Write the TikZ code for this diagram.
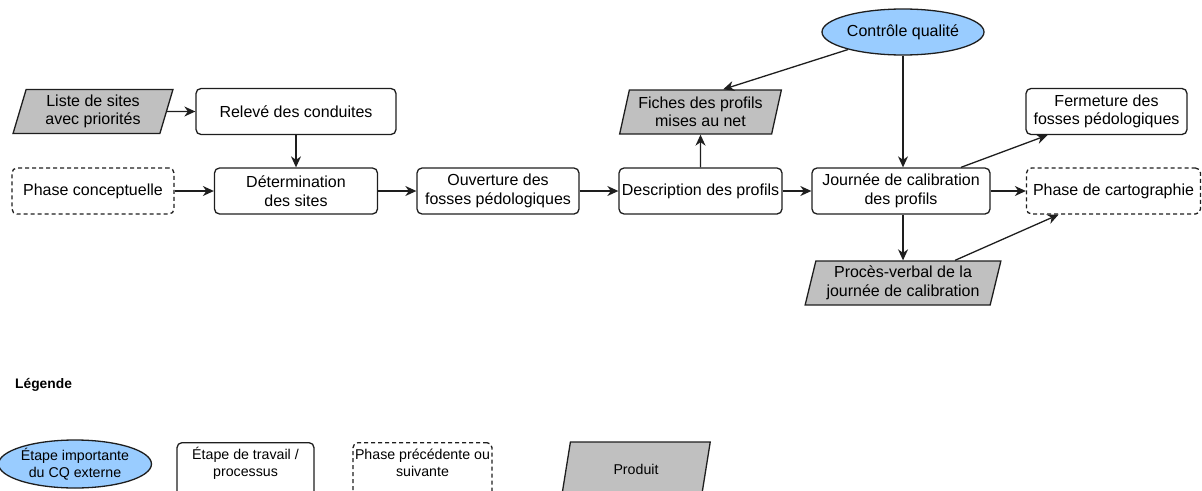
\documentclass[tikz,border=0pt]{standalone}
\usepackage{fontspec}
\setmainfont{Liberation Sans}
\usetikzlibrary{shapes.geometric,arrows.meta}
\definecolor{prodgray}{HTML}{C0C0C0}
\definecolor{cqblue}{HTML}{99CCFF}
\definecolor{linecol}{HTML}{1E1E1E}
\begin{document}
\begin{tikzpicture}[x=1pt,y=-1pt,
  base/.style={draw=linecol, line width=1.3pt, align=center, font=\fontsize{16}{18.5}\selectfont, inner sep=1pt},
  proc/.style={base, rounded corners=5pt, rectangle, minimum height=46pt},
  phase/.style={proc, dash pattern=on 4pt off 3pt},
  prod/.style={base, trapezium, trapezium left angle=75, trapezium right angle=105, trapezium stretches=true, fill=prodgray, minimum height=44pt},
  cqst/.style={base, ellipse, fill=cqblue, inner sep=0pt},
  legfont/.style={font=\fontsize{14.2}{17}\selectfont},
  arr/.style={-{Stealth[length=11pt,width=10pt,inset=3.5pt]}, line width=1.3pt, draw=linecol},
]
\useasboundingbox (0,0) rectangle (1202,490);
\clip (0,0) rectangle (1202,490);

% main nodes
\node[prod, minimum width=160pt] (liste) at (93,111.5) {Liste de sites\\avec priorités};
\node[proc, minimum width=200pt] (releve) at (296,111.5) {Relevé des conduites};
\node[phase, minimum width=162pt] (phconc) at (93,191) {Phase conceptuelle};
\node[proc, minimum width=163pt] (determ) at (296,191) {Détermination\\des sites};
\node[proc, minimum width=162pt] (ouvert) at (498,191) {Ouverture des\\fosses pédologiques};
\node[proc, minimum width=163pt] (descr) at (700.5,191) {Description des profils};
\node[prod, minimum width=162pt] (fiches) at (700.5,112) {Fiches des profils\\mises au net};
\node[cqst, minimum width=162pt, minimum height=46pt] (cq) at (903,32) {Contrôle qualité};
\node[proc, minimum width=178pt] (journee) at (901,191) {Journée de calibration\\des profils};
\node[proc, minimum width=161pt] (fermet) at (1106.5,111.5) {Fermeture des\\fosses pédologiques};
\node[phase, minimum width=174pt] (phcarto) at (1113.5,191) {Phase de cartographie};
\node[prod, minimum width=196pt] (pv) at (903,283) {Procès-verbal de la\\journée de calibration};

% connectors
\draw[arr] (liste.east) -- (releve.west);
\draw[arr] (releve.south) -- (determ.north);
\draw[arr] (phconc.east) -- (determ.west);
\draw[arr] (determ.east) -- (ouvert.west);
\draw[arr] (ouvert.east) -- (descr.west);
\draw[arr] (descr.north) -- (fiches.south);
\draw[arr] (descr.east) -- (journee.west);
\draw[arr] (cq) -- (fiches.north east);
\draw[arr] (cq.south) -- (cq.south |- journee.north);
\draw[arr] (journee.east) -- (phcarto.west);
\draw[arr] (pv.north |- journee.south) -- (pv.north);
\draw[arr] ([xshift=60pt]journee.north) -- ([xshift=-59pt]fermet.south);
\draw[arr] ([xshift=52pt]pv.north) -- ([xshift=-55pt]phcarto.south);

% legend
\node[font=\bfseries\fontsize{13.8}{15}\selectfont, anchor=west, inner sep=0pt] (legtitle) at (15,385) {Légende};
\node[cqst, legfont, minimum width=137pt, minimum height=48pt] (legcq) at (75,464) {Étape importante\\du CQ externe};
\node[proc, minimum width=137pt, minimum height=56pt, anchor=north] (legprocbox) at (245.5,442) {};
\node[legfont, align=center] (legproc) at (245.5,463) {Étape de travail /\\processus};
\node[phase, minimum width=139pt, minimum height=56pt, anchor=north] (legphasebox) at (422.5,442) {};
\node[legfont, align=center] (legphase) at (422.5,463) {Phase précédente ou\\suivante};
\node[prod, legfont, trapezium left angle=76, trapezium right angle=104, minimum width=148.5pt, minimum height=54pt] (legprod) at (636,469) {Produit};
\end{tikzpicture}
\end{document}
